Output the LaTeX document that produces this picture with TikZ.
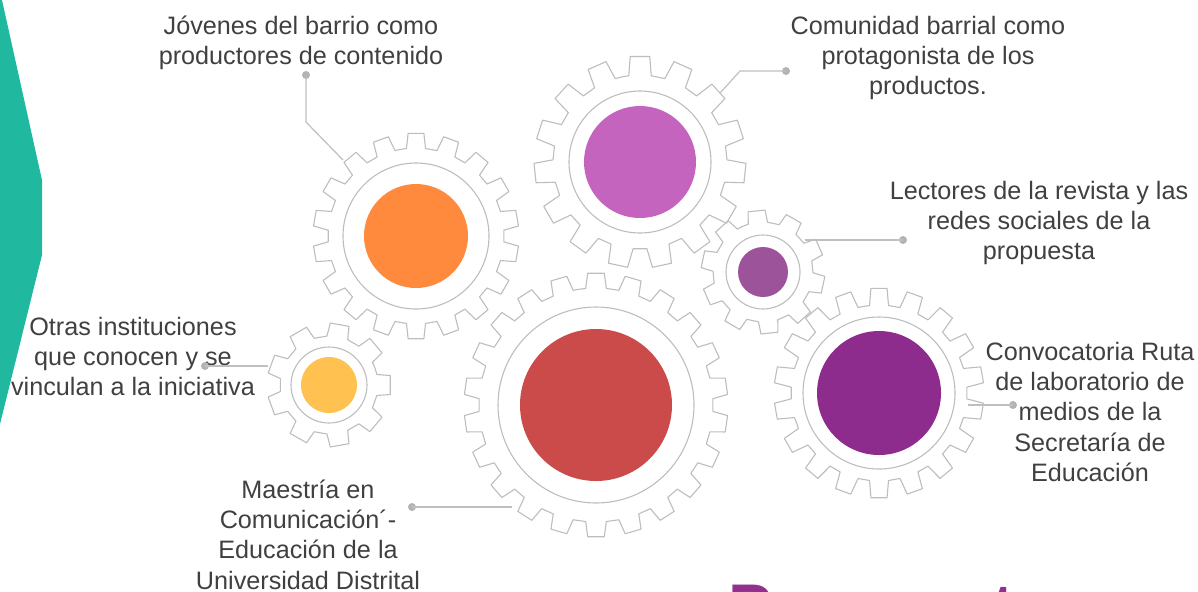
\documentclass[tikz,border=0pt]{standalone}
\usepackage{fontspec}
\setmainfont{Liberation Sans}
\usetikzlibrary{calc}
\definecolor{tealc}{HTML}{20B99F}
\definecolor{gearc}{HTML}{BDBDBD}
\definecolor{linec}{HTML}{BFBFBF}
\definecolor{dotc}{HTML}{B3B3B3}
\definecolor{txtc}{HTML}{404040}
\definecolor{orangec}{HTML}{FF8A3D}
\definecolor{pinkc}{HTML}{C464BE}
\definecolor{spurplec}{HTML}{9D5399}
\definecolor{redc}{HTML}{CB4B4B}
\definecolor{bpurplec}{HTML}{8E2C8E}
\definecolor{yellowc}{HTML}{FFC14F}
\definecolor{titlec}{HTML}{93308F}
\newcommand\lbl[1]{\begin{tabular}[t]{@{}c@{}}#1\end{tabular}}
\def\bh{0.31}
\def\th{0.22}
% cx, cy, N, root radius, tip radius, offset angle
\newcommand\drawgear[6]{%
  \begin{scope}[shift={(#1,#2)}]
    \pgfmathsetmacro\gp{360/#3}
    \draw[gearline] ({#6-0.5*\gp}:#4)
      \foreach \k in {1,...,#3}{
        -- ({#6+(\k-1)*\gp-\bh*\gp}:#4)
        -- ({#6+(\k-1)*\gp-\th*\gp}:#5)
        -- ({#6+(\k-1)*\gp+\th*\gp}:#5)
        -- ({#6+(\k-1)*\gp+\bh*\gp}:#4)
      } -- cycle;
  \end{scope}}
\begin{document}
\begin{tikzpicture}[x=0.5pt,y=-0.5pt,
  gearline/.style={draw=gearc, line width=0.55pt, line join=round},
  ringline/.style={draw=gearc, line width=0.55pt},
  hub/.style={circle, inner sep=0pt, draw=none},
  conn/.style={draw=linec, line width=0.6pt},
  dotn/.style={circle, fill=dotc, inner sep=0pt, minimum size=4pt},
  lab/.style={font=\fontsize{12.6}{15.2}\selectfont, text=txtc, inner sep=0pt, anchor=base}]
\useasboundingbox (0,0) rectangle (1198,591);
\begin{scope}
  \clip (0,0) rectangle (1198,591);
  \fill[tealc] (0,0) -- (2,0) -- (42,180) -- (42,255) -- (0,424) -- cycle;
  \node[font=\fontsize{33}{38}\selectfont\bfseries, text=titlec, inner sep=0pt, anchor=base west] (title) at (728,630) {Propuesta};
\end{scope}

% gears
\drawgear{416}{236}{18}{88}{103}{-90}
\drawgear{640}{162}{15}{87}{106}{-90}
\drawgear{763}{272}{10}{50}{62}{-96}
\drawgear{596}{405}{22}{117}{132}{-90}
\drawgear{879}{393}{18}{88}{105}{-90}
\drawgear{329}{385}{9}{49}{62}{0}

\draw[ringline] (416,236) circle[radius=73];
\draw[ringline] (640,162) circle[radius=71];
\draw[ringline] (763,272) circle[radius=37];
\draw[ringline] (596,405) circle[radius=98];
\draw[ringline] (879,393) circle[radius=76];
\draw[ringline] (329,385) circle[radius=38];

\node[hub, fill=orangec, minimum size=52pt] (orange) at (416,236) {};
\node[hub, fill=pinkc, minimum size=56pt] (pink) at (640,162) {};
\node[hub, fill=spurplec, minimum size=25pt] (spurple) at (763,272) {};
\node[hub, fill=redc, minimum size=76pt] (red) at (596,405) {};
\node[hub, fill=bpurplec, minimum size=62pt] (bpurple) at (879,393) {};
\node[hub, fill=yellowc, minimum size=28pt] (yellow) at (329,385) {};

% labels
\node[lab] (l1) at (301,34) {\lbl{Jóvenes del barrio como\\productores de contenido}};
\node[lab] (l2) at (928,34) {\lbl{Comunidad barrial como\\protagonista de los\\productos.}};
\node[lab] (l3) at (1039,199) {\lbl{Lectores de la revista y las\\redes sociales de la\\propuesta}};
\node[lab] (l4) at (1090,360) {\lbl{Convocatoria Ruta\\de laboratorio de\\medios de la\\Secretaría de\\Educación}};
\node[lab] (l5) at (133,335) {\lbl{Otras instituciones\\que conocen y se\\vinculan a la iniciativa}};
\node[lab] (l6) at (308,498) {\lbl{Maestría en\\Comunicación´-\\Educación de la\\Universidad Distrital}};

% connector coordinates
\coordinate (b1) at (306,122);
\coordinate (e1) at (343,160);
\coordinate (b2) at (740,71);
\coordinate (e2) at (720,93);
\coordinate (e3) at (805,240);
\coordinate (e4) at (968,405);
\coordinate (e5) at (268,366);
\coordinate (e6) at (512,507);

\node[dotn] (d1) at (306,75) {};
\node[dotn] (d2) at (786,71) {};
\node[dotn] (d3) at (903,240) {};
\node[dotn] (d4) at (1013,405) {};
\node[dotn] (d5) at (205,366) {};
\node[dotn] (d6) at (412,507) {};

\draw[conn] (d1.center) -- (b1) -- (e1);
\draw[conn] (d2.center) -- (b2) -- (e2);
\draw[conn] (d3.center) -- (e3);
\draw[conn] (d4.center) -- (e4);
\draw[conn] (d5.center) -- (e5);
\draw[conn] (d6.center) -- (e6);
\end{tikzpicture}
\end{document}
